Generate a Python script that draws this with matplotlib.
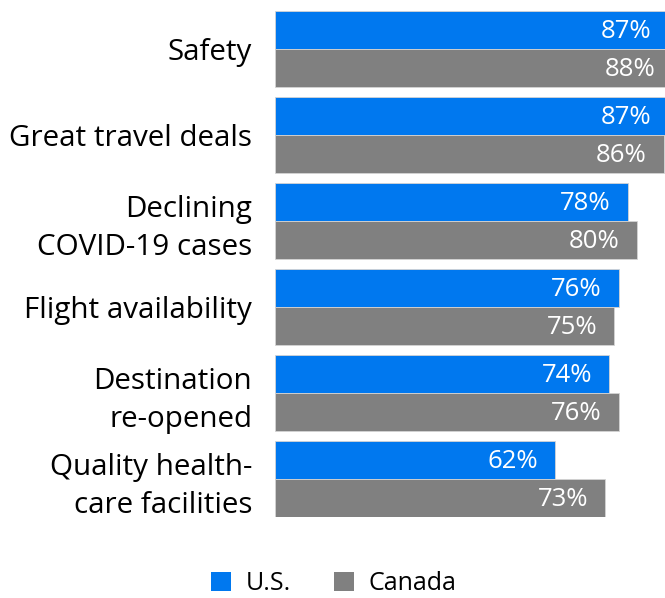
import matplotlib
matplotlib.use("Agg")
import matplotlib.pyplot as plt
from matplotlib.patches import Patch
from matplotlib.transforms import offset_copy

categories = ["Safety", "Great travel deals", "Declining\nCOVID-19 cases",
              "Flight availability", "Destination\nre-opened", "Quality health-\ncare facilities"]
us = [87, 87, 78, 76, 74, 62]
canada = [88, 86, 80, 75, 76, 73]
series_names = ["U.S.", "Canada"]
colors = ["#0078EF", "#808080"]

plt.rcParams['font.family'] = ['Open Sans', 'DejaVu Sans']

W, H = 665, 598
fig = plt.figure(figsize=(W / 100, H / 100), dpi=100)
ax = fig.add_axes([275 / W, 1 - 517 / H, 1 - 275 / W, (517 - 11) / H])

h = 38 / 86
pos = list(range(len(categories)))
for vals, off, col in [(us, -h / 2, colors[0]), (canada, h / 2, colors[1])]:
    ys = [p + off for p in pos]
    ax.barh(ys, vals, height=h, color=col, edgecolor="#d4d4d4", linewidth=0.6)
    for y, v in zip(ys, vals):
        t = offset_copy(ax.transData, fig=fig, x=-17, y=-2, units='dots')
        ax.text(v, y, f"{v}%", transform=t, ha="right", va="center",
                color="white", fontsize=18.5, clip_on=False)

ax.set_xlim(0, 390 / 4.52)
ax.set_ylim(len(categories) - 1 + h, -h)
ax.set_yticks(pos)
ax.set_yticklabels(categories, fontsize=21.3, linespacing=1.38, ha="right")
ax.tick_params(axis="y", length=0, pad=16.5)
ax.set_xticks([])
for s in ax.spines.values():
    s.set_visible(False)

handles = [Patch(facecolor=c, edgecolor="none") for c in colors]
fig.legend(handles, series_names, loc="center", bbox_to_anchor=(334 / W, 1 - 584 / H),
           ncol=2, frameon=False, fontsize=18, handlelength=0.8, handleheight=0.8,
           handletextpad=0.6, columnspacing=1.7)

fig.savefig("out.png", dpi=100)
